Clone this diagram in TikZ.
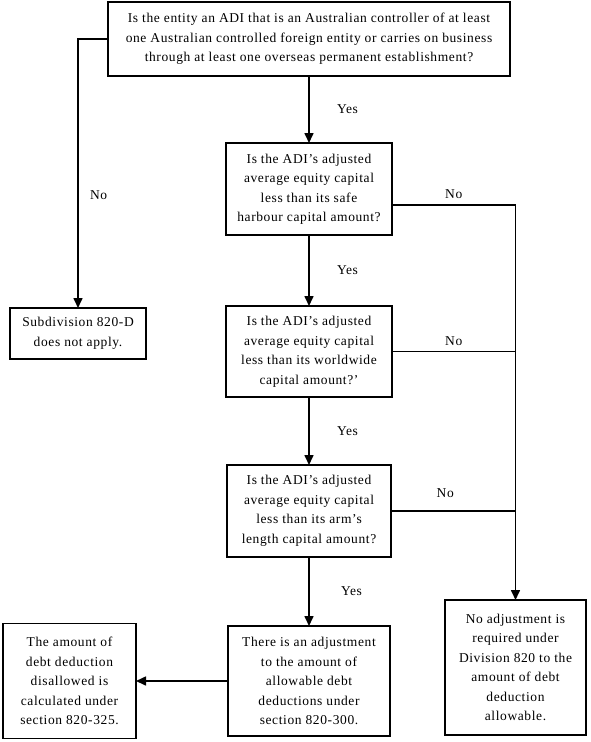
\documentclass[tikz,border=0pt]{standalone}
\usepackage{fontspec}
\setmainfont{Liberation Serif}[LetterSpace=4.5]
\usetikzlibrary{arrows.meta}
\usetikzlibrary{positioning}

\begin{document}
\begin{tikzpicture}[->,>={Triangle[length=10pt,width=9pt]},line width=1.6pt,
		x=1pt,y=-1pt,font=\fontsize{13.5}{19.5}\selectfont]
		\tikzstyle{box}=[draw,align=center,inner sep=0pt,outer sep=0pt]
		\useasboundingbox (0,0) rectangle (590,742);
		
		\node[box,minimum width=402pt,minimum height=74pt] (entity) at (309,39)
			{Is the entity an ADI that is an Australian controller of at least\\
			one Australian controlled foreign entity or carries on business\\
			through at least one overseas permanent establishment?};
		\node[box,minimum width=166pt,minimum height=92pt] (safe) [below=67pt of entity]
			{Is the ADI’s adjusted\\ average equity capital\\ less than its safe\\ harbour capital amount?};
		\node[box,minimum width=166pt,minimum height=91pt] (world) [below=71pt of safe]
			{Is the ADI’s adjusted\\ average equity capital\\ less than its worldwide\\ capital amount?’};
		\node[box,minimum width=164pt,minimum height=92pt] (arm) [below=68pt of world]
			{Is the ADI’s adjusted\\ average equity capital\\ less than its arm’s\\ length capital amount?};
		\node[box,minimum width=162pt,minimum height=110pt] (adjust) [below=69pt of arm]
			{There is an adjustment\\ to the amount of\\ allowable debt\\ deductions under\\ section 820-300.};
		\node[box,minimum width=133pt,minimum height=115pt] (amount) [left=92pt of adjust]
			{The amount of\\ debt deduction\\ disallowed is\\ calculated under\\ section 820-325.};
		\node[box,minimum width=141pt,minimum height=135pt] (noadj) at (515.5,667.5)
			{No adjustment is\\ required under\\ Division 820 to the\\ amount of debt\\ deduction\\ allowable.};
		\node[box,minimum width=136pt,minimum height=51pt] (sub) at (78,333.5)
			{Subdivision 820-D\\ does not apply.};
		
		\path
		(entity) edge node[right=24pt] {Yes} (safe)
		(safe)   edge node[right=24pt] {Yes} (world)
		(world)  edge node[right=24pt] {Yes} (arm)
		(arm)    edge node[right=28pt] {Yes} (adjust)
		(adjust) edge (amount);
		
		\draw (entity.west) -| node[pos=.79,right=8pt] {No} (sub.north);
		\draw ([yshift=-16pt]safe.east) -| node[pos=.25,above=2pt] {No} (noadj.north);
		\draw[-] (world.east) -- node[above=2pt] {No} (world.east -| noadj.north);
		\draw[-] (arm.east) -- node[above=9pt,xshift=-8pt] {No} (arm.east -| noadj.north);
\end{tikzpicture}
\end{document}
